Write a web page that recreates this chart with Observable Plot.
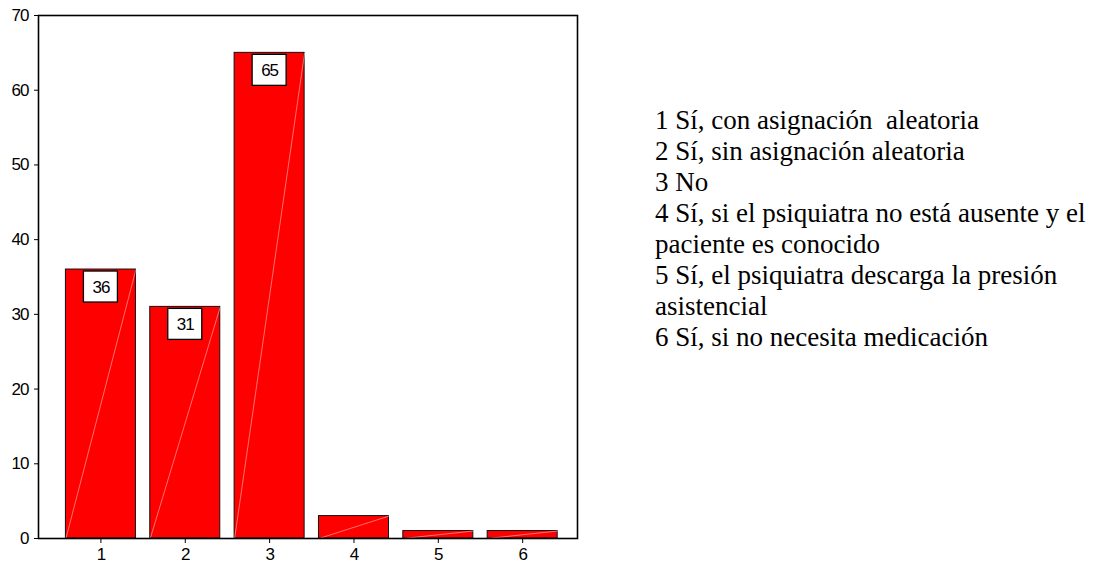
<!DOCTYPE html>
<html>
<head>
<meta charset="utf-8">
<script src="https://cdn.jsdelivr.net/npm/d3@7"></script>
<script src="https://cdn.jsdelivr.net/npm/@observablehq/plot@0.6"></script>
<style>
  html, body { margin: 0; padding: 0; background: #fff; }
  #wrap { position: relative; width: 1093px; height: 563px; }
  #chart { position: absolute; left: 0; top: 0; }
  #legend { position: absolute; left: 655px; top: 105px; white-space: pre; 
    font-family: "Liberation Serif", "Times New Roman", serif; font-size: 27px; line-height: 31px; color: #000; }
</style>
</head>
<body>
<div id="wrap"><div id="chart"></div><div id="legend"></div></div>
<script>
const categories = [1, 2, 3, 4, 5, 6];
const counts = [36, 31, 65, 3, 1, 1];
const labelled = [true, true, true, false, false, false];
const legendLabels = [
  "1 Sí, con asignación  aleatoria",
  "2 Sí, sin asignación aleatoria",
  "3 No",
  "4 Sí, si el psiquiatra no está ausente y el\npaciente es conocido",
  "5 Sí, el psiquiatra descarga la presión\nasistencial",
  "6 Sí, si no necesita medicación"
];
const yTicks = [0, 10, 20, 30, 40, 50, 60, 70];

const data = categories.map((c, i) => ({cat: c, value: counts[i], label: labelled[i]}));
const half = 0.415;

const chart = Plot.plot({
  width: 590,
  height: 563,
  marginLeft: 38,
  marginRight: 13,
  marginTop: 15,
  marginBottom: 25,
  style: {fontFamily: "'Liberation Sans', Arial, sans-serif", fontSize: "17px", color: "#000", background: "#fff"},
  x: {domain: [0.26, 6.65], ticks: categories, tickFormat: d => String(d), label: null, tickSize: 5, tickPadding: 4},
  y: {domain: [0, 70], ticks: yTicks, label: null, tickSize: 4, tickPadding: 6},
  marks: [
    Plot.rect(data, {x1: d => d.cat - half, x2: d => d.cat + half, y1: 0, y2: "value", fill: "#ff0000", stroke: "#111", strokeWidth: 1}),
    Plot.link(data, {x1: d => d.cat - half, y1: 0, x2: d => d.cat + half, y2: "value", stroke: "#fff", strokeOpacity: 0.55, strokeWidth: 0.8}),
    Plot.rect(data.filter(d => d.label), {x1: "cat", x2: "cat", y1: "value", y2: "value", insetLeft: -17, insetRight: -17, insetTop: 2, insetBottom: -33, fill: "#fff", stroke: "#000", strokeWidth: 1.3}),
    Plot.text(data.filter(d => d.label), {x: "cat", y: "value", text: d => String(d.value), dy: 18, fontSize: 17, fill: "#000"}),
    Plot.frame({stroke: "#000", strokeWidth: 1.6})
  ]
});
chart.querySelectorAll("text").forEach(t => t.style.letterSpacing = "-1px");
document.getElementById("chart").appendChild(chart);

const leg = document.getElementById("legend");
legendLabels.forEach(s => { const d = document.createElement("div"); d.textContent = s; leg.appendChild(d); });
</script>
</body>
</html>
